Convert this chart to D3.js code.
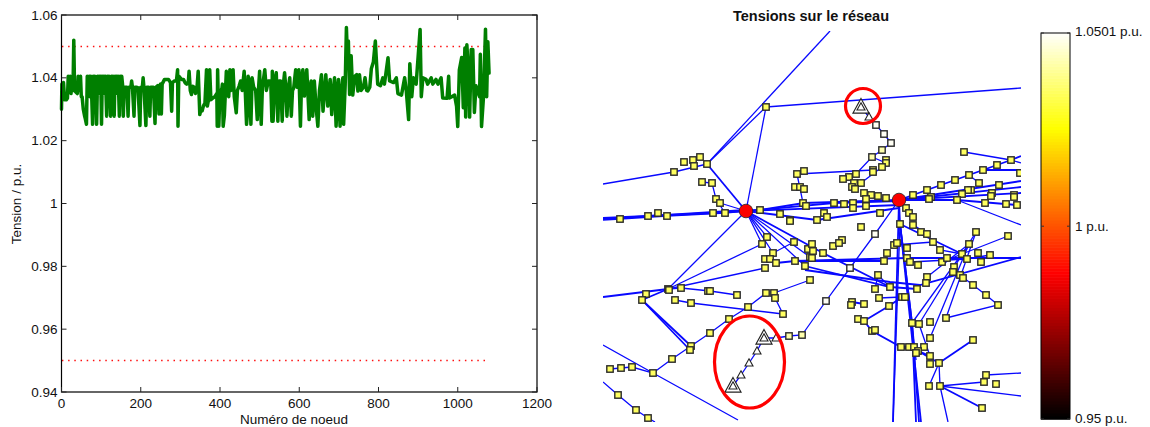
<!DOCTYPE html>
<html><head><meta charset="utf-8">
<script src="https://cdn.jsdelivr.net/npm/d3@7/dist/d3.min.js"></script>
<style>html,body{margin:0;padding:0;background:#fff}svg{display:block}text{font-family:"Liberation Sans",Arial,sans-serif;fill:#111}</style>
</head><body><svg id="c" width="1150" height="427"></svg>
<script>
const voltageTrace=[[0,1.030],[1,1.038],[3,1.034],[5,1.0385],[8,1.033],[12,1.033],[15,1.0335],[17,1.0405],[20,1.036],[22,1.0405],[24,1.035],[27,1.0405],[29,1.036],[31,1.052],[33,1.036],[36,1.0355],[40,1.035],[42,1.0405],[45,1.036],[48,1.0405],[50,1.034],[52,1.034],[55,1.03],[58,1.028],[60,1.027],[63,1.0252],[65,1.0405],[68,1.036],[70,1.0405],[72,1.034],[74,1.0405],[76,1.035],[78.5,1.0252],[80,1.0405],[82,1.035],[84,1.0405],[86,1.035],[88.6,1.0252],[91,1.0405],[93,1.035],[95,1.0405],[97,1.035],[99,1.0405],[101,1.0252],[103,1.0405],[105,1.035],[107,1.0405],[109,1.035],[111,1.0405],[114,1.0278],[116,1.0405],[118,1.035],[120,1.0405],[122,1.035],[124,1.0278],[126,1.0405],[128,1.035],[130,1.0405],[133,1.0278],[135,1.0405],[137,1.035],[139,1.0405],[141,1.035],[143,1.0405],[146,1.0278],[148,1.0405],[150,1.035],[152,1.0405],[154,1.038],[156,1.0278],[158,1.037],[162,1.037],[165,1.037],[168,1.0278],[170,1.037],[175,1.037],[177,1.039],[179,1.037],[183,1.0278],[185,1.037],[190,1.037],[193,1.0368],[198,1.0248],[200,1.037],[204,1.037],[206,1.04],[208,1.037],[213,1.0248],[215,1.037],[220,1.037],[223,1.0278],[225,1.037],[232,1.037],[236,1.0255],[238,1.037],[243,1.0375],[246,1.0285],[248,1.0375],[250,1.038],[252,1.0285],[254,1.038],[260,1.0395],[270,1.0395],[275,1.0385],[278,1.0294],[280,1.0385],[285,1.039],[290,1.039],[293,1.0426],[294,1.0246],[296,1.0405],[303,1.0395],[308,1.0395],[312,1.0384],[316,1.038],[320,1.0385],[322,1.0421],[325,1.036],[328,1.0347],[331,1.0373],[335,1.037],[338,1.035],[342,1.037],[345,1.0421],[349,1.0283],[352,1.03],[355,1.0295],[358,1.031],[362,1.032],[366,1.0426],[368,1.031],[371,1.033],[374,1.0426],[377,1.033],[382,1.0336],[387,1.034],[392,1.035],[393,1.0246],[394,1.0426],[397,1.0246],[400,1.036],[403,1.0347],[406,1.038],[408,1.0246],[411,1.028],[416,1.0421],[419,1.036],[422,1.034],[425,1.0426],[428,1.036],[431,1.039],[433,1.0426],[436,1.034],[441,1.0289],[444,1.036],[448,1.0373],[452,1.039],[456,1.036],[461,1.0421],[464,1.035],[467,1.0252],[470,1.03],[471,1.0405],[475,1.038],[478,1.0252],[481,1.04],[485,1.037],[490,1.036],[494,1.0267],[497,1.036],[500,1.0421],[504,1.0252],[507,1.037],[513,1.0426],[517,1.036],[522,1.039],[528,1.039],[531,1.0262],[532,1.0421],[534,1.0262],[538,1.039],[542,1.0416],[546,1.0262],[549,1.039],[553,1.039],[557,1.0262],[560,1.038],[563,1.0416],[566,1.037],[569,1.0278],[572,1.036],[576,1.04],[580,1.0278],[583,1.036],[586,1.0368],[591,1.0426],[595,1.037],[599,1.0426],[603,1.0246],[606,1.04],[609,1.0426],[613,1.0342],[619,1.0426],[625,1.0267],[628,1.037],[630,1.039],[634,1.0278],[638,1.039],[643,1.03],[647,1.0246],[651,1.036],[656,1.041],[660,1.0294],[664,1.036],[667,1.041],[672,1.031],[675,1.036],[678,1.0395],[682,1.0283],[686,1.036],[689,1.04],[693,1.0246],[697,1.037],[699,1.0395],[703,1.0246],[706,1.035],[710,1.04],[712,1.0252],[716,1.038],[719,1.056],[722,1.045],[724,1.0517],[727,1.0347],[731,1.047],[735,1.0345],[740,1.0405],[745,1.041],[748,1.0358],[752,1.041],[756,1.036],[762,1.037],[766,1.04],[770,1.036],[773,1.0358],[778,1.037],[782,1.043],[787,1.045],[792,1.0517],[798,1.038],[805,1.0375],[811,1.04],[815,1.038],[824,1.0464],[828,1.039],[838,1.0385],[845,1.04],[849,1.035],[858,1.0345],[866,1.04],[870,1.036],[876,1.0267],[879,1.0445],[884,1.034],[888,1.04],[895,1.038],[905,1.0554],[908,1.034],[912,1.04],[920,1.0395],[924,1.038],[933,1.04],[937,1.038],[945,1.0395],[950,1.038],[958,1.04],[962,1.0336],[973,1.0335],[977,1.0405],[979,1.0336],[992,1.0345],[997,1.031],[1000,1.0245],[1004,1.0425],[1010,1.0465],[1014,1.0305],[1018,1.0495],[1020,1.0275],[1023,1.0505],[1028,1.0395],[1030,1.0275],[1034,1.049],[1038,1.049],[1042,1.029],[1046,1.0375],[1055,1.034],[1057,1.0475],[1060,1.0245],[1065,1.034],[1070,1.0555],[1073,1.034],[1076,1.0515],[1079,1.0415]];
const limitNodes=[1,1079];
const limitHigh=1.05, limitLow=0.95;
const xTicks=[0,200,400,600,800,1000,1200];
const yTicks=[0.94,0.96,0.98,1,1.02,1.04,1.06];
const yTickLabels=["0.94","0.96","0.98","1","1.02","1.04","1.06"];
const titleLeftX="Numéro de noeud", titleLeftY="Tension / p.u.", titleRight="Tensions sur le réseau";
const busYellow=[[166,87],[107,144],[100,137],[93,140],[84,142],[94,146],[74,152],[102,162],[112,163],[116,179],[120,183],[125,193],[113,193],[67,196],[58,193],[48,196],[20,199],[160,190],[180,194],[190,200],[204,151],[197,154],[195,167],[200,167],[204,169],[203,183],[206,186],
[286,140],[286,143],[282,147],[273,150],[273,152],[256,154],[249,157],[243,159],[254,163],[261,163],[252,167],[255,169],[264,173],[271,175],[278,176],[266,179],[286,178],[234,183],[244,184],[253,183],[253,188],[266,186],[224,193],[227,197],[217,200],[280,193],[306,188],[309,193],[313,197],
[313,175],[327,170],[331,177],[329,179],[341,165],[355,160],[369,155],[379,163],[383,150],[397,145],[411,140],[364,132],[420,153],[399,165],[371,170],[368,170],[362,174],[357,180],[392,173],[391,176],[385,183],[406,184],[417,185],[414,175],[414,177],
[167,217],[162,224],[194,222],[173,233],[165,239],[170,239],[176,243],[195,241],[205,246],[165,248],[210,260],[190,201],[208,229],[210,237],
[46,274],[42,280],[68,269],[69,270],[81,268],[108,271],[110,271],[137,275],[75,280],[91,283],[148,287],[166,273],[174,273],[175,278],[183,294],[129,299],[110,313],[91,326],[90,330],[72,339],[53,353],[32,347],[21,348],[10,349],[18,375],[36,390],[48,398],
[300,204],[313,205],[321,212],[327,214],[261,207],[242,220],[233,226],[239,223],[223,233],[212,224],[213,231],[212,238],[294,225],[297,223],[287,233],[284,241],[307,228],[307,238],[310,242],[318,245],[333,222],[340,230],[342,242],[347,238],[362,234],[369,224],[376,212],[408,216],[378,233],[390,235],[381,242],[367,239],[354,247],[353,252],[360,255],[363,258],[373,265],[386,275],[398,285],[346,298],[330,302],[330,318],[373,320],[327,257],[326,263],[317,269],[290,267],[278,255],[275,269],[279,278],[302,277],[305,277],[289,286],[264,284],[252,282],[251,285],[258,299],[264,301],[272,311],[275,310],[301,327],[309,327],[314,327],[324,327],[318,331],[316,333],[312,303],[319,304],[330,336],[330,344],[339,343],[329,366],[340,366],[384,362],[386,355],[396,364],[382,388]];
const busPale=[[282,130],[272,137],[189,316],[202,315]];
const busWhite=[[276,105],[284,114],[291,123],[226,281],[250,248],[275,214]];
const voltYellow=1.0345, voltPale=1.042, voltWhite=1.049;
const sources=[[146,191],[299,180]];
const voltSource=0.987;
const bigTriangles=[[261,87],[164,318],[133,366]];
const smallTriangles=[[269,97],[176,318],[157,331],[149,343],[141,355]];
const feedersThin=[
[107,144,166,87],[166,87,146,191],
[261,87,269,97,276,105,284,114,291,123,282,130,272,137,256,154,243,159],[197,154,273,150],[272,137,286,143,282,147,261,163],
[3,200,20,199,67,196,125,193,146,191],[146,191,68,269],[146,191,162,224],[146,191,167,217],[146,191,173,233,194,222],[146,191,210,237],[146,191,205,246],
[102,162,112,163,116,179,125,193],[197,154,203,183,206,186],[120,183,146,191],
[357,180,421,205],[369,155,379,163],[364,132,411,140,421,143],
[278,255,290,267],[278,255,275,269],[279,278,302,277],
[300,204,293,402],[369,224,330,318],[369,224,312,303],[376,212,346,298],[376,212,319,304],
[294,225,333,222],[333,222,340,230,362,234],[342,242,362,234],[310,242,367,239,390,235],[353,252,360,255,373,265,386,275,398,285,346,298],[362,234,408,216],[369,224,327,257],
[340,366,421,376],[340,366,384,362],[386,355,421,353],[340,366,339,343],[329,366,339,343],[340,366,348,402],[312,303,316,340],[319,304,330,336],
[68,269,162,224],[68,269,165,248],[68,269,81,268,110,271,137,275],[75,280,91,283,183,294],[53,353,72,339,91,326,110,313,129,299,148,287,166,273],[174,273,175,278,183,294],[174,273,210,260],
[10,349,21,348,32,347,53,353],[3,325,53,353,138,400],[3,362,18,375,36,390,48,398,55,402],
[133,366,141,355,149,343,157,331,164,318,176,318,189,316,202,315,226,281,250,248,275,214,299,180],
[3,164,74,152,107,144],[107,144,230,11],[166,87,421,68]];
const feedersThick=[
[107,144,146,191],[146,191,160,190,204,183,299,180],[146,191,299,185],[146,191,234,183,299,181],[146,191,217,200,299,188],[3,199,146,190],[3,198,48,196,113,193,146,191],
[299,180,421,161],[299,180,421,167],[299,180,421,173],[299,180,357,180,417,185],[299,180,341,165,355,160,369,155,383,150,397,145,411,140,421,136],[383,150,421,150],
[299,180,300,204,312,303,316,402],[300,204,312,303,319,402],[300,204,321,402],[299,180,293,402],[299,180,306,188,313,197],[300,204,362,234],[313,205,327,214],
[146,191,223,233,290,267],[176,243,195,241,284,241],[195,241,307,238,421,238],[205,246,290,267,317,269],[205,250,290,262,320,265,421,237],
[264,301,289,286,302,277],[252,282,264,284],[258,299,264,301,272,311,301,327,309,327,330,336],[339,343,318,331,301,327],[339,343,373,320],[340,366,382,388],
[42,280,91,326],[42,280,90,330],[68,269,42,280],[3,277,68,269]];
const barTicks=[0.95,1,1.0501];
const barTickLabels=["0.95 p.u.","1 p.u.","1.0501 p.u."];

const svg=d3.select("#c");
const L={l:61.5,r:537,t:15,b:392};
const x=d3.scaleLinear().domain([0,1200]).range([L.l,L.r]);
const y=d3.scaleLinear().domain([0.94,1.06]).range([L.b,L.t]);
[limitHigh,limitLow].forEach(v=>{
  svg.append("line").attr("x1",x(limitNodes[0])).attr("x2",x(limitNodes[1])).attr("y1",y(v)).attr("y2",y(v))
    .attr("stroke","#ff1010").attr("stroke-width",1.5).attr("stroke-dasharray","1.5 4.7");
});
svg.append("path").attr("d",d3.line().x(d=>x(d[0])).y(d=>y(d[1]))(voltageTrace))
  .attr("fill","none").attr("stroke","#007f00").attr("stroke-width",3.5).attr("stroke-linejoin","round").attr("stroke-linecap","round");
svg.append("rect").attr("x",L.l).attr("y",L.t).attr("width",L.r-L.l).attr("height",L.b-L.t).attr("fill","none").attr("stroke","#000").attr("stroke-width",1.2);
const ax=svg.append("g").attr("stroke","#222").attr("stroke-width",1);
const fs=13.5;
xTicks.forEach(t=>{
  ax.append("line").attr("x1",x(t)).attr("x2",x(t)).attr("y1",L.b).attr("y2",L.b-5);
  ax.append("line").attr("x1",x(t)).attr("x2",x(t)).attr("y1",L.t).attr("y2",L.t+5);
  svg.append("text").attr("x",x(t)).attr("y",L.b+16).attr("text-anchor","middle").attr("font-size",fs).text(t);
});
yTicks.forEach((t,i)=>{
  ax.append("line").attr("x1",L.l).attr("x2",L.l+5).attr("y1",y(t)).attr("y2",y(t));
  ax.append("line").attr("x1",L.r).attr("x2",L.r-5).attr("y1",y(t)).attr("y2",y(t));
  svg.append("text").attr("x",L.l-4).attr("y",y(t)+4.5).attr("text-anchor","end").attr("font-size",fs).text(yTickLabels[i]);
});
svg.append("text").attr("x",294).attr("y",424).attr("text-anchor","middle").attr("font-size",fs).text(titleLeftX);
svg.append("text").attr("transform",`translate(21,204) rotate(-90)`).attr("text-anchor","middle").attr("font-size",fs).text(titleLeftY);
const mx=d3.scaleLinear().domain([3,421]).range([603,1021]);
const my=d3.scaleLinear().domain([10,402]).range([30,422]);
const hot=d3.scaleLinear().domain([0,0.375,0.75,1]).range(["#000000","#ff0000","#ffff00","#ffffff"]).clamp(true);
const vt=d3.scaleLinear().domain([0.95,1.0501]).range([0,1]);
const colour=v=>hot(vt(v));
svg.append("clipPath").attr("id","mapclip").append("rect").attr("x",mx(3)).attr("y",my(11)).attr("width",mx(421)-mx(3)).attr("height",my(402)-my(11));
const map=svg.append("g").attr("clip-path","url(#mapclip)");
const toPts=a=>d3.range(0,a.length,2).map(i=>[a[i],a[i+1]]);
const ln=d3.line().x(d=>mx(d[0])).y(d=>my(d[1]));
const draw=(arr,w)=>map.append("g").selectAll("path").data(arr).join("path").attr("d",d=>ln(toPts(d))).attr("fill","none").attr("stroke","#0808ff").attr("stroke-width",w);
draw(feedersThin,1.3);draw(feedersThick,1.8);
const sq=(arr,v)=>map.append("g").selectAll("rect").data(arr).join("rect")
  .attr("x",d=>mx(d[0])-3.2).attr("y",d=>my(d[1])-3.2).attr("width",6.4).attr("height",6.4)
  .attr("fill",colour(v)).attr("stroke","#2a2a2a").attr("stroke-width",1.4);
sq(busYellow,voltYellow);sq(busPale,voltPale);sq(busWhite,voltWhite);
map.append("g").selectAll("circle").data(sources).join("circle").attr("cx",d=>mx(d[0])).attr("cy",d=>my(d[1])).attr("r",6.8)
  .attr("fill",hot(vt(voltSource))).attr("stroke","#222").attr("stroke-width",.8);
const tri=(d,r)=>`M${mx(d[0])},${my(d[1])-r}L${mx(d[0])+r*.95},${my(d[1])+r*.72}L${mx(d[0])-r*.95},${my(d[1])+r*.72}Z`;
const triG=map.append("g").attr("fill","#fff").attr("stroke","#222").attr("stroke-width",1.1);
smallTriangles.forEach(d=>triG.append("path").attr("d",tri(d,4.2)));
bigTriangles.forEach(d=>{triG.append("path").attr("d",tri(d,8.5));triG.append("path").attr("d",tri(d,4.2));});
const rings=[[263,86,17.5,17.5],[149.5,342,35,46]];
svg.append("g").selectAll("ellipse").data(rings).join("ellipse").attr("cx",d=>mx(d[0])).attr("cy",d=>my(d[1])).attr("rx",d=>d[2]).attr("ry",d=>d[3])
  .attr("fill","none").attr("stroke","#f00").attr("stroke-width",3.2);
svg.append("text").attr("x",811).attr("y",21).attr("text-anchor","middle").attr("font-size",14.5).attr("font-weight","bold").text(titleRight);
const B={l:1041,r:1070,t:33,b:419};
const by=d3.scaleLinear().domain([0.95,1.0501]).range([B.b,B.t]);
const bars=d3.range(0.95,1.0501,0.1001/128);
svg.append("g").selectAll("rect").data(bars).join("rect").attr("x",B.l).attr("width",B.r-B.l)
  .attr("y",d=>by(d)-(B.b-B.t)/128).attr("height",(B.b-B.t)/128+.6).attr("fill",d=>colour(d));
svg.append("rect").attr("x",B.l).attr("y",B.t).attr("width",B.r-B.l).attr("height",B.b-B.t).attr("fill","none").attr("stroke","#000").attr("stroke-width",1);
barTicks.forEach((t,i)=>{
  [[B.l,B.l+3],[B.r,B.r-3]].forEach(p=>svg.append("line").attr("x1",p[0]).attr("x2",p[1]).attr("y1",by(t)).attr("y2",by(t)).attr("stroke","#333"));
  svg.append("text").attr("x",B.r+5).attr("y",by(t)+(i==0?4:i==2?3:4.5)).attr("font-size",fs).text(barTickLabels[i]);
});
</script></body></html>
